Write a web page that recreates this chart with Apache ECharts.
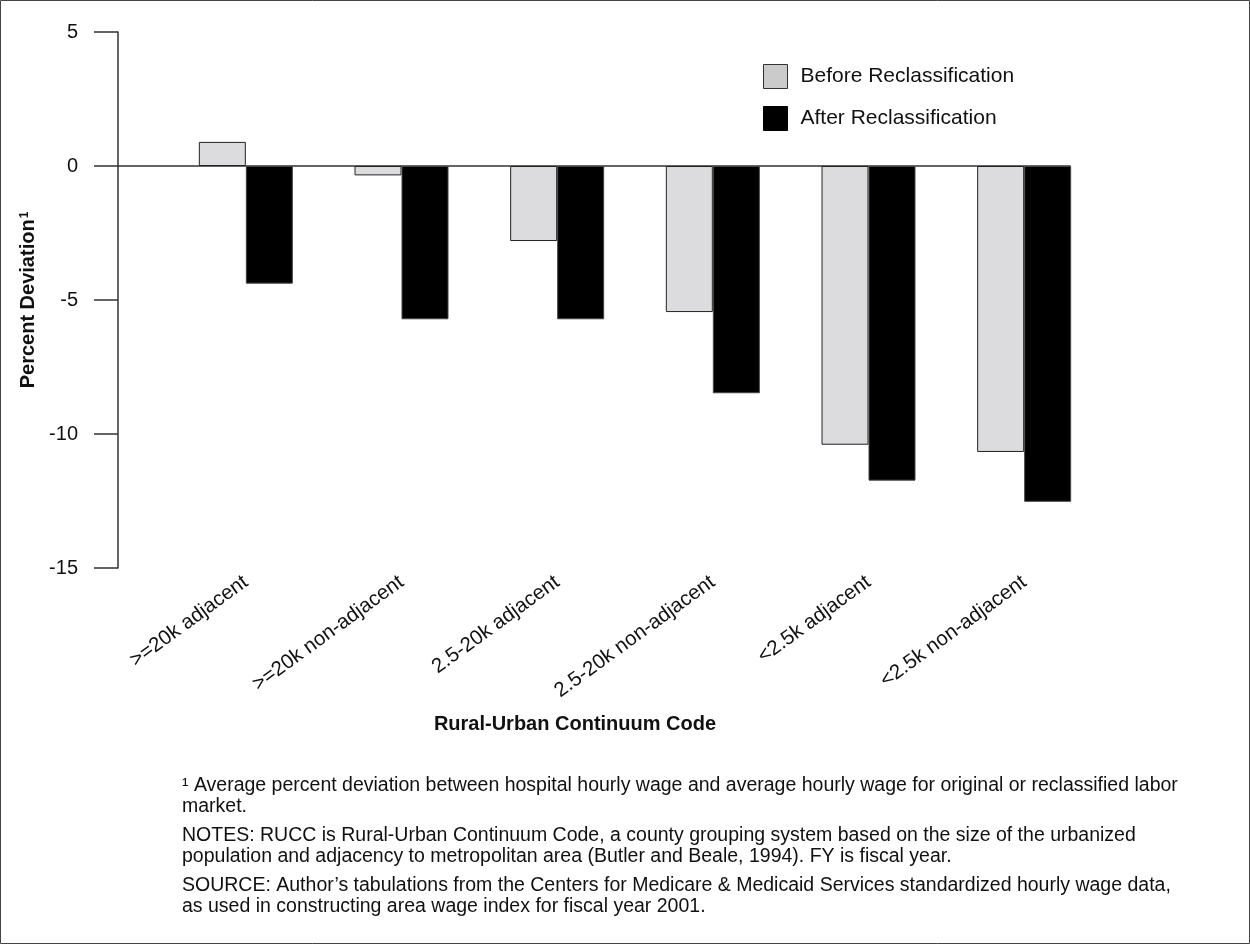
<!DOCTYPE html>
<html>
<head>
<meta charset="utf-8">
<script src="https://cdn.jsdelivr.net/npm/echarts@6/dist/echarts.min.js"></script>
<style>
  html, body { margin: 0; padding: 0; background: #fff; }
  #chart { width: 1250px; height: 944px; }
</style>
</head>
<body>
<div id="chart"></div>
<script>
// rural-urban continuum groups
const categories = [
  ">=20k adjacent",
  ">=20k non-adjacent",
  "2.5-20k adjacent",
  "2.5-20k non-adjacent",
  "<2.5k adjacent",
  "<2.5k non-adjacent"
]
const seriesNames = ["Before Reclassification", "After Reclassification"]
const beforeValues = [0.9, -0.35, -2.8, -5.45, -10.4, -10.67]
const afterValues = [-4.39, -5.72, -5.72, -8.48, -11.74, -12.53]
const yTicks = [-15, -10, -5, 0, 5]

const footnotes = [
  "¹ Average percent deviation between hospital hourly wage and average hourly wage for original or reclassified labor\nmarket.",
  "NOTES: RUCC is Rural-Urban Continuum Code, a county grouping system based on the size of the urbanized\npopulation and adjacency to metropolitan area (Butler and Beale, 1994). FY is fiscal year.",
  "SOURCE: Author’s tabulations from the Centers for Medicare & Medicaid Services standardized hourly wage data,\nas used in constructing area wage index for fiscal year 2001."
]

const FONT = "Liberation Sans, Arial, Helvetica, sans-serif"
const yMin = yTicks[0]
const yMax = yTicks[yTicks.length - 1]

const chart = echarts.init(document.getElementById("chart"))

const option = {
  animation: false,
  textStyle: { fontFamily: FONT, color: "#111" },
  grid: [
    // bars + category labels
    { left: 168, right: 148, top: 32, bottom: 376 },
    // visible value axis and zero line
    { left: 118, right: 180, top: 32, bottom: 376 }
  ],
  legend: {
    orient: "vertical",
    left: 763,
    top: 64,
    padding: 0,
    itemWidth: 24,
    itemHeight: 24,
    itemGap: 17,
    icon: "rect",
    textStyle: { fontSize: 21, color: "#111", padding: [0, 0, 0, 8] },
    data: [
      { name: seriesNames[0], itemStyle: { color: "#cbcbcb", borderColor: "#333", borderWidth: 1 } },
      { name: seriesNames[1], itemStyle: { color: "#000", borderColor: "#000", borderWidth: 1 } }
    ]
  },
  xAxis: [
    {
      type: "category",
      gridIndex: 0,
      data: categories,
      axisLine: { show: false, onZero: false },
      axisTick: { show: false },
      axisLabel: { rotate: 36, fontSize: 20.5, margin: 12, color: "#111", interval: 0 }
    },
    {
      type: "value",
      gridIndex: 1,
      min: 0,
      max: 1,
      axisLine: { show: true, onZero: true, lineStyle: { color: "#333", width: 1.5 } },
      axisTick: { show: false },
      axisLabel: { show: false },
      splitLine: { show: false }
    }
  ],
  yAxis: [
    {
      type: "value",
      gridIndex: 0,
      min: yMin,
      max: yMax,
      interval: 5,
      show: false
    },
    {
      type: "value",
      gridIndex: 1,
      min: yMin,
      max: yMax,
      interval: 5,
      axisLine: { show: true, lineStyle: { color: "#333", width: 1.5 } },
      axisTick: { show: true, length: 24, lineStyle: { color: "#333", width: 1.5 } },
      axisLabel: { fontSize: 20, margin: 40, color: "#111" },
      splitLine: { show: false },
      name: "{a|Percent Deviation}{s|1}",
      nameLocation: "middle",
      nameGap: 74,
      nameRotate: 90,
      nameTextStyle: {
        rich: {
          a: { fontSize: 20, fontWeight: "bold", color: "#111", fontFamily: FONT },
          s: { fontSize: 12, fontWeight: "bold", color: "#111", fontFamily: FONT, verticalAlign: "top", padding: [0, 0, 8, 1] }
        }
      }
    }
  ],
  series: [
    {
      name: seriesNames[0],
      type: "bar",
      xAxisIndex: 0,
      yAxisIndex: 0,
      barWidth: 47,
      barGap: "0%",
      itemStyle: { color: "#dcdcdf", borderColor: "#222", borderWidth: 1 },
      data: beforeValues
    },
    {
      name: seriesNames[1],
      type: "bar",
      xAxisIndex: 0,
      yAxisIndex: 0,
      barWidth: 47,
      barGap: "0%",
      itemStyle: { color: "#000", borderColor: "#444", borderWidth: 1 },
      data: afterValues
    }
  ],
  graphic: [
    {
      type: "rect",
      shape: { x: 0.5, y: 0.5, width: 1249, height: 943 },
      style: { fill: "none", stroke: "#444", lineWidth: 1 },
      silent: true
    },
    {
      type: "text",
      x: 575,
      y: 724,
      style: {
        text: "Rural-Urban Continuum Code",
        font: "bold 20px " + FONT,
        fill: "#111",
        textAlign: "center",
        textVerticalAlign: "middle"
      }
    },
    {
      type: "text",
      x: 182,
      y: 775,
      style: { text: footnotes[0], font: "19.5px " + FONT, fill: "#111", lineHeight: 21 }
    },
    {
      type: "text",
      x: 182,
      y: 825,
      style: { text: footnotes[1], font: "19.5px " + FONT, fill: "#111", lineHeight: 21 }
    },
    {
      type: "text",
      x: 182,
      y: 875,
      style: { text: footnotes[2], font: "19.5px " + FONT, fill: "#111", lineHeight: 21 }
    }
  ]
}

chart.setOption(option)
</script>
</body>
</html>
